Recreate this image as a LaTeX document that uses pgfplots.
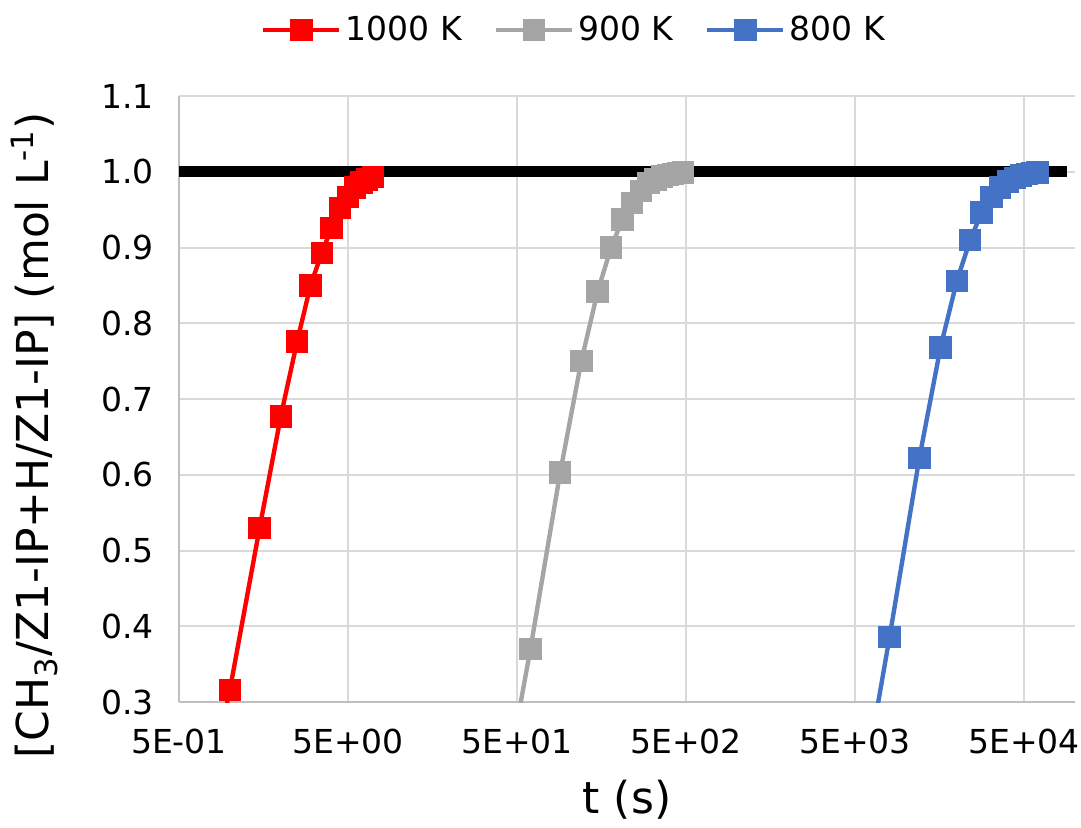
\documentclass[border=0pt]{standalone}
\usepackage{pgfplots}
\pgfplotsset{compat=1.18}
\usepackage{fontspec}
\setmainfont{DejaVu Sans}

\definecolor{redK}{HTML}{FF0000}
\definecolor{greyK}{HTML}{A5A5A5}
\definecolor{blueK}{HTML}{4472C4}
\definecolor{gridc}{HTML}{D9D9D9}
\definecolor{axisc}{HTML}{BFBFBF}

\newcommand{\tickfont}{\fontsize{16.5}{19.8}\selectfont}
\newcommand{\titlefont}{\fontsize{22}{26}\selectfont}

\begin{document}
\begin{tikzpicture}
\useasboundingbox (-89.5pt,-62.5pt) rectangle (451pt,351pt);
\begin{axis}[
    at={(0pt,0pt)}, anchor=south west,
    scale only axis,
    width=448pt, height=303pt,
    xmode=log,
    xmin=0.5, xmax=1e5,
    ymin=0.3, ymax=1.1,
    xtick={0.5,5,50,500,5000,50000},
    xticklabels={5E-01,5E+00,5E+01,5E+02,5E+03,5E+04},
    minor xtick={},
    ytick={0.3,0.4,...,1.15},
    yticklabel style={/pgf/number format/.cd, fixed, fixed zerofill, precision=1, assume math mode=true},
    tick label style={font=\tickfont, text=black},
    xticklabel shift=10pt,
    yticklabel shift=9pt,
    major tick length=0pt,
    minor tick length=0pt,
    minor tick num=0,
    grid=major,
    major grid style={draw=gridc, line width=1pt},
    axis x line*=bottom,
    axis y line*=left,
    axis line style={draw=axisc, line width=1pt, -},
    xlabel={t (s)},
    ylabel={[CH\textsubscript{3}/Z1-IP+H/Z1-IP] (mol L\textsuperscript{-1})},
    label style={font=\titlefont},
    xlabel style={at={(axis description cs:0.5,-0.162)}, anchor=center},
    ylabel style={at={(axis description cs:-0.161,0.44)}, anchor=center, rotate=0},
    legend columns=3,
    legend style={at={(axis description cs:0.442,1.109)}, anchor=center, draw=none, fill=none,
        font=\tickfont, /tikz/every even column/.append style={column sep=14pt}},
    legend image code/.code={\draw[#1, mark repeat=2, mark phase=2] plot coordinates {(0pt,0pt) (19pt,0pt) (38pt,0pt)};},
    every axis plot/.append style={line width=2.2pt, mark=square*, mark size=4.5pt},
]
% 1000 K
\addplot[color=redK, mark options={solid, fill=redK}] coordinates {
    (0.5,0.0) (1.0,0.316) (1.5,0.530) (2.0,0.677) (2.5,0.776) (3.0,0.850)
    (3.5,0.893) (4.0,0.926) (4.5,0.952) (5.0,0.967) (5.5,0.979) (6.0,0.986)
    (6.5,0.990) (7.0,0.993)
};
\addlegendentry{1000 K}
% 900 K
\addplot[color=greyK, mark options={solid, fill=greyK}] coordinates {
    (30,0.0) (60,0.370) (90,0.603) (120,0.750) (150,0.842) (180,0.900)
    (210,0.937) (240,0.959) (270,0.975) (300,0.985) (330,0.990) (360,0.994)
    (390,0.996) (420,0.997) (450,0.998) (480,0.999)
};
\addlegendentry{900 K}
% 800 K
\addplot[color=blueK, mark options={solid, fill=blueK}] coordinates {
    (4000,0.0) (8000,0.386) (12000,0.622) (16000,0.768) (20000,0.856)
    (24000,0.910) (28000,0.946) (32000,0.967) (36000,0.979) (40000,0.987)
    (44000,0.992) (48000,0.995) (52000,0.997) (56000,0.998) (60000,0.999)
};
\addlegendentry{800 K}
% reference line at 1.0
\addplot[black, line width=5.5pt, no marks, forget plot] coordinates {(0.5,1.0) (9e4,1.0)};
\end{axis}
\end{tikzpicture}
\end{document}
